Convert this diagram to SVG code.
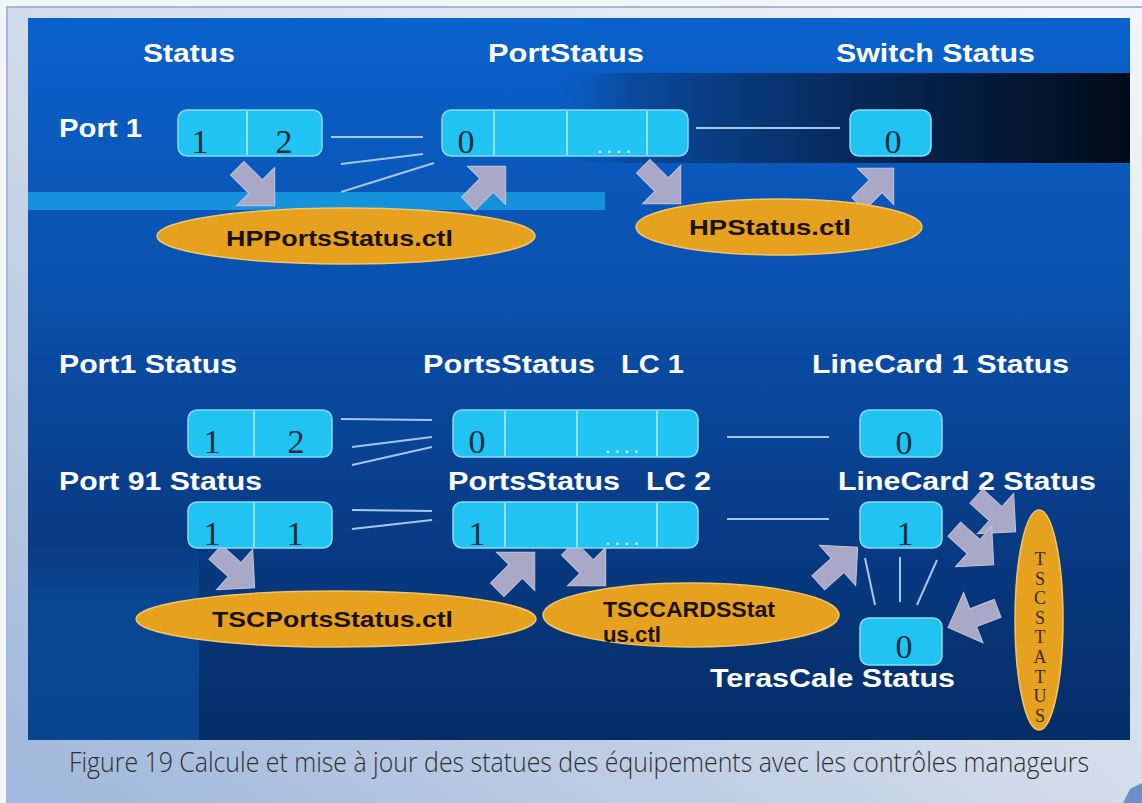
<svg xmlns="http://www.w3.org/2000/svg" width="1142" height="803" viewBox="0 0 1142 803">
<defs>
<linearGradient id="bg" x1="0" y1="1" x2="1" y2="0">
<stop offset="0" stop-color="#9db6db"/><stop offset="0.5" stop-color="#d3dcea"/><stop offset="1" stop-color="#f3f6fa"/>
</linearGradient>
<linearGradient id="panel" x1="0" y1="0" x2="0" y2="1">
<stop offset="0" stop-color="#0a62cc"/><stop offset="0.35" stop-color="#0a52b0"/><stop offset="0.7" stop-color="#083c86"/><stop offset="1" stop-color="#062d66"/>
</linearGradient>
<linearGradient id="leftstrip" x1="0" y1="0" x2="0" y2="1">
<stop offset="0" stop-color="#0b4fa2" stop-opacity="0"/><stop offset="0.3" stop-color="#0b4a98" stop-opacity="0.8"/><stop offset="1" stop-color="#0a4590"/>
</linearGradient>
<linearGradient id="dark" x1="0" y1="0" x2="1" y2="0">
<stop offset="0" stop-color="#0a55b5" stop-opacity="0"/><stop offset="0.12" stop-color="#0a4a9c"/><stop offset="0.5" stop-color="#072a5c"/><stop offset="1" stop-color="#020a18"/>
</linearGradient>
<path id="arr" d="M-26,-9.5 L0,-9.5 L0,-27 L27,0 L0,27 L0,9.5 L-26,9.5 Z"/>
<style>
.box{fill:#20c3f2;stroke:#86dcf8;stroke-width:1.5}
.div{stroke:#b4eeff;stroke-width:1.5}
.dig{font-family:"Liberation Serif",serif;font-size:34px;fill:#1c2c3a;text-anchor:middle}
.dots{font-family:"Liberation Serif",serif;font-size:22px;fill:#d4f4ff;letter-spacing:4px}
.ttl{font-family:"Liberation Sans",Arial,sans-serif;font-weight:bold;font-size:26px;fill:#ffffff}
.ell{fill:#e6a21e;stroke:#f2c66a;stroke-width:1.5}
.et{font-family:"Liberation Sans",Arial,sans-serif;font-weight:bold;font-size:22px;fill:#1a1208}
.ln{stroke:#a6c6ee;stroke-width:2;fill:none}
.ar{fill:#a9a9c7;stroke:#c4c4dc;stroke-width:1}
.vt{font-family:"Liberation Serif",serif;font-size:18px;fill:#3a2a10;text-anchor:middle}
</style>
</defs>
<rect x="0" y="0" width="1142" height="803" fill="#f2f5f9"/>
<rect x="7" y="7" width="1150" height="820" fill="url(#bg)" stroke="#a3b7d6" stroke-width="2"/>
<rect x="28" y="18" width="1102" height="722" fill="url(#panel)"/>
<rect x="28" y="540" width="171" height="200" fill="url(#leftstrip)"/>
<rect x="560" y="73" width="570" height="90" fill="url(#dark)"/>
<rect x="28" y="192" width="577" height="18" fill="#1592dc"/>

<g id="titles">
<text class="ttl" x="143" y="62" textLength="92" lengthAdjust="spacingAndGlyphs">Status</text>
<text class="ttl" x="488" y="62" textLength="156" lengthAdjust="spacingAndGlyphs">PortStatus</text>
<text class="ttl" x="836" y="62" textLength="199" lengthAdjust="spacingAndGlyphs">Switch Status</text>
<text class="ttl" x="59" y="137" textLength="83" lengthAdjust="spacingAndGlyphs">Port 1</text>
<text class="ttl" x="59" y="373" textLength="178" lengthAdjust="spacingAndGlyphs">Port1 Status</text>
<text class="ttl" y="373"><tspan x="423" textLength="172" lengthAdjust="spacingAndGlyphs">PortsStatus</tspan><tspan x="621" textLength="63" lengthAdjust="spacingAndGlyphs">LC 1</tspan></text>
<text class="ttl" x="812" y="373" textLength="257" lengthAdjust="spacingAndGlyphs">LineCard 1 Status</text>
<text class="ttl" x="59" y="490" textLength="203" lengthAdjust="spacingAndGlyphs">Port 91 Status</text>
<text class="ttl" y="490"><tspan x="448" textLength="172" lengthAdjust="spacingAndGlyphs">PortsStatus</tspan><tspan x="646" textLength="65" lengthAdjust="spacingAndGlyphs">LC 2</tspan></text>
<text class="ttl" x="838" y="490" textLength="258" lengthAdjust="spacingAndGlyphs">LineCard 2 Status</text>
<text class="ttl" x="710" y="687" textLength="245" lengthAdjust="spacingAndGlyphs">TerasCale Status</text>
</g>

<g id="connectors">
<line class="ln" x1="331" y1="137" x2="423" y2="137"/>
<line class="ln" x1="341" y1="164" x2="423" y2="154"/>
<line class="ln" x1="341" y1="192" x2="434" y2="163"/>
<line class="ln" x1="696" y1="128" x2="840" y2="128"/>
<line class="ln" x1="341" y1="419" x2="432" y2="420"/>
<line class="ln" x1="352" y1="447" x2="432" y2="437"/>
<line class="ln" x1="352" y1="465" x2="432" y2="447"/>
<line class="ln" x1="727" y1="437" x2="829" y2="437"/>
<line class="ln" x1="352" y1="510" x2="432" y2="511"/>
<line class="ln" x1="352" y1="529" x2="432" y2="520"/>
<line class="ln" x1="727" y1="519" x2="829" y2="519"/>
<line class="ln" x1="865" y1="558" x2="875" y2="605"/>
<line class="ln" x1="900" y1="557" x2="900" y2="602"/>
<line class="ln" x1="937" y1="560" x2="917" y2="605"/>
<use href="#arr" class="ar" transform="translate(255.6,186.6) rotate(45)"/>
<use href="#arr" class="ar" transform="translate(486.6,185.4) rotate(-45)"/>
<use href="#arr" class="ar" transform="translate(661.6,184.6) rotate(45)"/>
<use href="#arr" class="ar" transform="translate(875.6,186.4) rotate(-45) scale(0.95)"/>
<use href="#arr" class="ar" transform="translate(234.6,569.6) rotate(42)"/>
<use href="#arr" class="ar" transform="translate(515.6,571.4) rotate(-45)"/>
<use href="#arr" class="ar" transform="translate(586.6,566.6) rotate(45)"/>
<use href="#arr" class="ar" transform="translate(837.6,565.4) rotate(-42)"/>
<use href="#arr" class="ar" transform="translate(995.6,513.6) rotate(42)"/>
<use href="#arr" class="ar" transform="translate(973.6,546.6) rotate(42)"/>
<use href="#arr" class="ar" transform="translate(973.3,617.7) rotate(159)"/>
</g>

<g id="box-status-port1">
<rect class="box" x="178" y="110" width="144" height="46" rx="9"/>
<line class="div" x1="247" y1="111" x2="247" y2="155"/>
<text class="dig" x="200" y="153">1</text><text class="dig" x="284" y="153">2</text>
</g>
<g id="box-portstatus">
<rect class="box" x="442" y="110" width="246" height="46" rx="9"/>
<line class="div" x1="494" y1="111" x2="494" y2="155"/>
<line class="div" x1="567" y1="111" x2="567" y2="155"/>
<line class="div" x1="647" y1="111" x2="647" y2="155"/>
<text class="dig" x="466" y="153">0</text><text class="dots" x="597" y="153">....</text>
</g>
<g id="box-switch">
<rect class="box" x="850" y="110" width="81" height="46" rx="9"/>
<text class="dig" x="893" y="153">0</text>
</g>
<g id="ell-hpports">
<ellipse class="ell" cx="346" cy="236" rx="189" ry="28"/>
<text class="et" x="226" y="246" textLength="227" lengthAdjust="spacingAndGlyphs">HPPortsStatus.ctl</text>
</g>
<g id="ell-hpstatus">
<ellipse class="ell" cx="779" cy="227" rx="143" ry="28"/>
<text class="et" x="689" y="235" textLength="162" lengthAdjust="spacingAndGlyphs">HPStatus.ctl</text>
</g>

<g id="box-port1-status">
<rect class="box" x="188" y="410" width="144" height="47" rx="9"/>
<line class="div" x1="254" y1="411" x2="254" y2="456"/>
<text class="dig" x="212" y="453">1</text><text class="dig" x="296" y="453">2</text>
</g>
<g id="box-lc1">
<rect class="box" x="453" y="410" width="245" height="47" rx="9"/>
<line class="div" x1="505" y1="411" x2="505" y2="456"/>
<line class="div" x1="577" y1="411" x2="577" y2="456"/>
<line class="div" x1="657" y1="411" x2="657" y2="456"/>
<text class="dig" x="477" y="453">0</text><text class="dots" x="605" y="453">....</text>
</g>
<g id="box-linecard1">
<rect class="box" x="860" y="410" width="82" height="47" rx="9"/>
<text class="dig" x="904" y="454">0</text>
</g>
<g id="box-port91-status">
<rect class="box" x="188" y="502" width="144" height="46" rx="9"/>
<line class="div" x1="254" y1="503" x2="254" y2="547"/>
<text class="dig" x="212" y="545">1</text><text class="dig" x="295" y="545">1</text>
</g>
<g id="box-lc2">
<rect class="box" x="453" y="502" width="245" height="46" rx="9"/>
<line class="div" x1="505" y1="503" x2="505" y2="547"/>
<line class="div" x1="577" y1="503" x2="577" y2="547"/>
<line class="div" x1="657" y1="503" x2="657" y2="547"/>
<text class="dig" x="477" y="545">1</text><text class="dots" x="605" y="545">....</text>
</g>
<g id="box-linecard2">
<rect class="box" x="860" y="502" width="82" height="46" rx="9"/>
<text class="dig" x="905" y="545">1</text>
</g>
<g id="box-terascale">
<rect class="box" x="860" y="618" width="82" height="47" rx="9"/>
<text class="dig" x="904" y="658" font-size="32">0</text>
</g>
<g id="ell-tscports">
<ellipse class="ell" cx="336" cy="619" rx="200" ry="28"/>
<text class="et" x="212" y="627" textLength="241" lengthAdjust="spacingAndGlyphs">TSCPortsStatus.ctl</text>
</g>
<g id="ell-tsccards">
<ellipse class="ell" cx="691" cy="615" rx="148" ry="32"/>
<text class="et" x="603" y="617" textLength="172" lengthAdjust="spacingAndGlyphs">TSCCARDSStat</text>
<text class="et" x="603" y="642" textLength="58" lengthAdjust="spacingAndGlyphs">us.ctl</text>
</g>
<g id="ell-tscstatus">
<ellipse class="ell" cx="1039" cy="620" rx="24" ry="110"/>
<text class="vt" x="1040" y="565">T</text>
<text class="vt" x="1040" y="585">S</text>
<text class="vt" x="1040" y="604">C</text>
<text class="vt" x="1040" y="624">S</text>
<text class="vt" x="1040" y="643">T</text>
<text class="vt" x="1040" y="663">A</text>
<text class="vt" x="1040" y="683">T</text>
<text class="vt" x="1040" y="702">U</text>
<text class="vt" x="1040" y="722">S</text>
</g>

<text transform="translate(69,772) scale(1,1.16)" x="0" y="0" font-family="'Open Sans',sans-serif" font-weight="300" font-size="24" fill="#2e2e2e" textLength="1020" lengthAdjust="spacingAndGlyphs">Figure 19 Calcule et mise à jour des statues des équipements avec les contrôles manageurs</text>
<polygon points="1123,803 1130,789 1142,783 1142,803" fill="#6d8fc9"/>
</svg>
